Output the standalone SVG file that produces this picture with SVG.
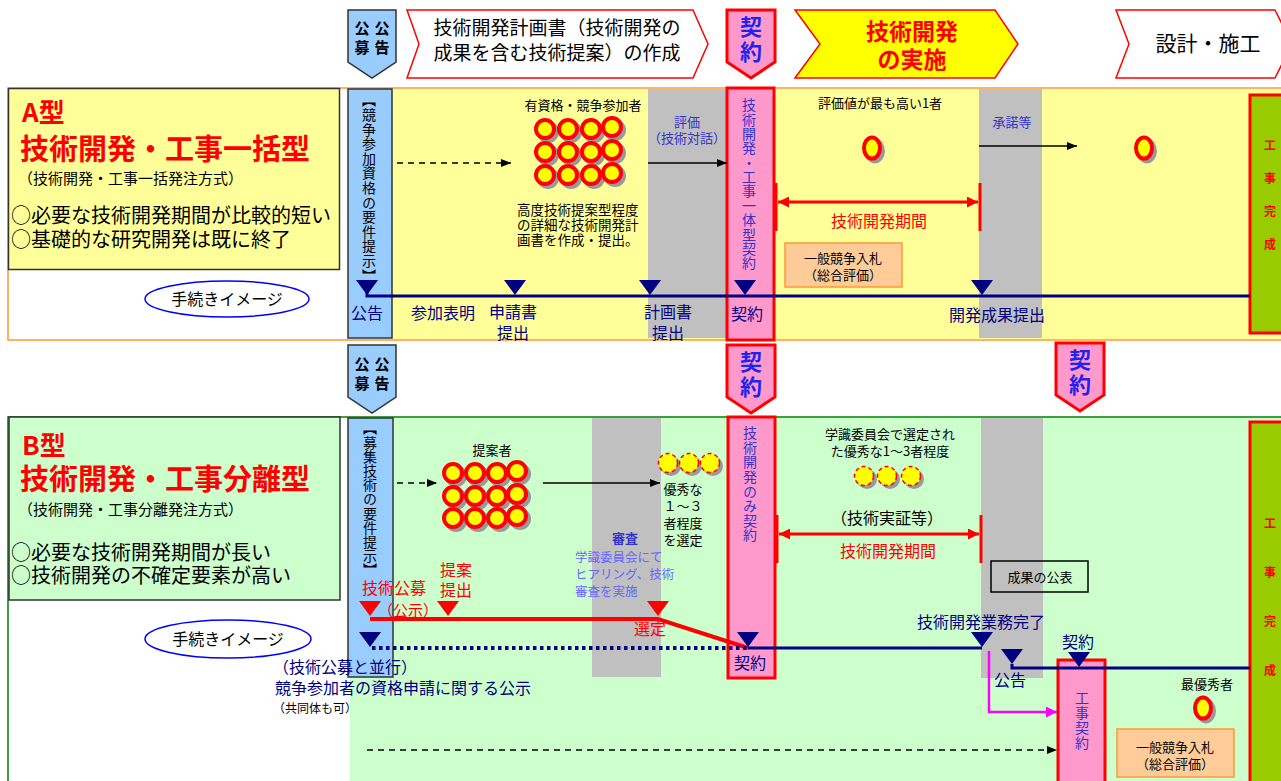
<svg xmlns="http://www.w3.org/2000/svg" width="1281" height="781" viewBox="0 0 1281 781">
<style>
text{font-family:"Noto Sans CJK JP","Noto Sans",sans-serif;}
.m{text-anchor:middle;}
.v{writing-mode:vertical-rl;text-anchor:start;}
.navy{fill:#000080;}
.blu{fill:#3333CC;}
.lblu{fill:#6666FF;}
.red{fill:#FF0000;}
.blk{fill:#000;}
.b{font-weight:bold;}
.gray{fill:#C0C0C0;}
.bluecol{fill:#99CCFF;stroke:#333;stroke-width:1.5;}
.pinkcol{fill:#FF99CC;stroke:#FF0000;stroke-width:3;}
.greencol{fill:#99CC00;stroke:#FF0000;stroke-width:3;}
.obox{fill:#FFCC99;stroke:#FF9933;stroke-width:1.5;}
.tl{stroke:#000080;stroke-width:3;fill:none;}
.ell{fill:#fff;stroke:#0000FF;stroke-width:1.5;}
</style>
<defs>
<path id="tri" d="M-11,0 H11 L0,15 Z"/>
<g id="cir"><circle cx="3" cy="3" r="11" fill="#999"/><circle r="9" fill="#FFFF00" stroke="#FF0000" stroke-width="4"/></g>
<g id="dcir"><circle cx="3" cy="3" r="10" fill="#999"/><circle r="9.5" fill="#FFFF00" stroke="#FF0000" stroke-width="1.5" stroke-dasharray="4,3"/></g>
<g id="ecir"><ellipse cx="3" cy="3" rx="10" ry="12.5" fill="#999"/><ellipse rx="8" ry="10.5" fill="#FFFF00" stroke="#FF0000" stroke-width="4"/></g>
<marker id="ah" viewBox="0 0 10 10" refX="10" refY="5" markerWidth="11" markerHeight="10" markerUnits="userSpaceOnUse" orient="auto"><path d="M0,1 L10,5 L0,9 Z" fill="#000"/></marker>
<marker id="ahr" viewBox="0 0 10 10" refX="10" refY="5" markerWidth="12" markerHeight="11" markerUnits="userSpaceOnUse" orient="auto-start-reverse"><path d="M0,0 L10,5 L0,10 Z" fill="#FF0000"/></marker>
<marker id="ahm" viewBox="0 0 10 10" refX="10" refY="5" markerWidth="11" markerHeight="11" markerUnits="userSpaceOnUse" orient="auto"><path d="M0,0 L10,5 L0,10 Z" fill="#FF00FF"/></marker>
</defs>

<rect x="0" y="0" width="1281" height="781" fill="#fff"/>

<!-- Header -->
<g id="hdr-koubo">
<polygon points="348,10 396,10 396,62 372,78 348,62" class="bluecol"/>
<text class="m b blk" font-size="15"><tspan x="382" y="34">公</tspan><tspan x="382" y="53">告</tspan><tspan x="362" y="34">公</tspan><tspan x="362" y="53">募</tspan></text>
</g>
<g id="hdr-plan">
<polygon points="407,10 693,10 708,44 693,78 407,78 419,44" fill="#fff" stroke="#FF0000" stroke-width="1.5"/>
<text class="m blk" font-size="19"><tspan x="557" y="35">技術開発計画書（技術開発の</tspan><tspan x="557" y="60">成果を含む技術提案）の作成</tspan></text>
</g>
<g id="hdr-keiyaku">
<polygon points="727,10 775,10 775,62 751,78 727,62" class="pinkcol"/>
<text class="m b" font-size="22" fill="#2222EE"><tspan x="751" y="35">契</tspan><tspan x="751" y="60">約</tspan></text>
</g>
<g id="hdr-jisshi">
<polygon points="795,10 995,10 1018,44 995,78 795,78 820,44" fill="#FFFF00" stroke="#FF0000" stroke-width="1.5"/>
<text class="m b red" font-size="23"><tspan x="912" y="40">技術開発</tspan><tspan x="912" y="68">の実施</tspan></text>
</g>
<g id="hdr-sekkei">
<polygon points="1116,10 1275,10 1292,44 1275,78 1116,78 1129,44" fill="#fff" stroke="#FF0000" stroke-width="1.5"/>
<text class="m blk" x="1208" y="51" font-size="21">設計・施工</text>
</g>

<!-- A section -->
<g id="A-frame">
<rect x="8" y="88" width="1285" height="252" fill="#fff" stroke="#FF9933" stroke-width="1.5"/>
<rect x="392" y="89" width="889" height="250" fill="#FFFF99"/>
<rect x="648" y="89" width="79" height="249" class="gray"/>
<rect x="979" y="89" width="63" height="249" class="gray"/>
</g>
<g id="A-title">
<rect x="8.5" y="88.5" width="331" height="181" fill="#FFFF99" stroke="#333" stroke-width="1.5"/>
<text class="b red" x="22" y="122" font-size="26">A型</text>
<text class="b red" x="20" y="160" font-size="29">技術開発・工事一括型</text>
<text class="blk" x="18" y="184" font-size="15">（技術開発・工事一括発注方式）</text>
<text class="blk" x="11" y="223" font-size="20">○必要な技術開発期間が比較的短い</text>
<text class="blk" x="11" y="247" font-size="20">○基礎的な研究開発は既に終了</text>
</g>
<g id="A-image">
<ellipse cx="227" cy="299" rx="82" ry="18" class="ell"/>
<text class="m blk" x="227" y="305" font-size="16">手続きイメージ</text>
</g>
<g id="A-bluecol">
<rect x="348" y="89" width="44" height="249" class="bluecol"/>
<text class="v blk" x="369" y="93" font-size="14" letter-spacing="0.6">【競争参加資格の要件提示】</text>
</g>
<g id="A-pinkcol">
<rect x="727" y="88" width="47" height="252" class="pinkcol"/>
<text class="v blu" x="749" y="98" font-size="14" letter-spacing="0.36">技術開発・工事一体型契約</text>
</g>
<g id="A-greencol">
<rect x="1250" y="95" width="40" height="238" class="greencol"/>
<text class="v b red" x="1270" y="139" font-size="12" letter-spacing="21.3">工事完成</text>
</g>
<g id="A-applicants">
<text class="m blk" x="583" y="110" font-size="13">有資格・競争参加者</text>
<use href="#cir" x="545" y="129"/><use href="#cir" x="568" y="129"/><use href="#cir" x="591" y="129"/><use href="#cir" x="612" y="127"/>
<use href="#cir" x="545" y="152"/><use href="#cir" x="568" y="152"/><use href="#cir" x="591" y="152"/><use href="#cir" x="612" y="150"/>
<use href="#cir" x="545" y="175"/><use href="#cir" x="568" y="175"/><use href="#cir" x="591" y="175"/><use href="#cir" x="612" y="173"/>
<text class="blk" font-size="13.5"><tspan x="517" y="215">高度技術提案型程度</tspan><tspan x="517" y="230">の詳細な技術開発計</tspan><tspan x="517" y="245">画書を作成・提出。</tspan></text>
</g>
<g id="A-eval">
<text class="m blu" font-size="13"><tspan x="687" y="127">評価</tspan><tspan x="687" y="143">（技術対話）</tspan></text>
</g>
<g id="A-winner">
<text class="m blk" x="880" y="108" font-size="13">評価値が最も高い1者</text>
<use href="#ecir" x="872" y="148"/>
<text class="m red" x="879" y="227" font-size="16">技術開発期間</text>
</g>
<g id="A-accept">
<text class="m blu" x="1012" y="127" font-size="13">承諾等</text>
<use href="#ecir" x="1144" y="148"/>
</g>
<g id="A-bid">
<rect x="785" y="243" width="117" height="44" class="obox"/>
<text class="m blk" font-size="13"><tspan x="843" y="263">一般競争入札</tspan><tspan x="843" y="280">（総合評価）</tspan></text>
</g>
<g id="A-timeline-labels">
<text class="m navy" x="367" y="319" font-size="16">公告</text>
<text class="m navy" x="443" y="319" font-size="16">参加表明</text>
<text class="m navy" font-size="16"><tspan x="513" y="318">申請書</tspan><tspan x="513" y="339">提出</tspan></text>
<text class="m navy" font-size="16"><tspan x="668" y="318">計画書</tspan><tspan x="668" y="339">提出</tspan></text>
<text class="m navy" x="747" y="320" font-size="16">契約</text>
<text class="m navy" x="997" y="321" font-size="16">開発成果提出</text>
</g>

<!-- B section header pentagons -->
<g id="B-koubo">
<polygon points="348,345 396,345 396,397 372,413 348,397" class="bluecol"/>
<text class="m b blk" font-size="15"><tspan x="382" y="370">公</tspan><tspan x="382" y="389">告</tspan><tspan x="362" y="370">公</tspan><tspan x="362" y="389">募</tspan></text>
</g>
<g id="B-keiyaku1">
<polygon points="727,345 775,345 775,397 751,413 727,397" class="pinkcol"/>
<text class="m b" font-size="22" fill="#2222EE"><tspan x="751" y="370">契</tspan><tspan x="751" y="395">約</tspan></text>
</g>
<g id="B-keiyaku2">
<polygon points="1056,343 1104,343 1104,395 1080,411 1056,395" class="pinkcol"/>
<text class="m b" font-size="22" fill="#2222EE"><tspan x="1080" y="368">契</tspan><tspan x="1080" y="393">約</tspan></text>
</g>

<!-- B section -->
<g id="B-frame">
<rect x="8" y="417" width="1285" height="380" fill="#fff" stroke="#008000" stroke-width="1.5"/>
<rect x="350" y="418" width="931" height="363" fill="#CCFFCC"/>
<rect x="592" y="418" width="69" height="259" class="gray"/>
<rect x="981" y="418" width="62" height="260" class="gray"/>
</g>
<g id="B-title">
<rect x="9" y="417" width="331" height="183" fill="#CCFFCC" stroke="#333" stroke-width="1.5"/>
<text class="b red" x="22" y="455" font-size="26">B型</text>
<text class="b red" x="20" y="490" font-size="29">技術開発・工事分離型</text>
<text class="blk" x="18" y="515" font-size="15">（技術開発・工事分離発注方式）</text>
<text class="blk" x="11" y="560" font-size="20">○必要な技術開発期間が長い</text>
<text class="blk" x="11" y="583" font-size="20">○技術開発の不確定要素が高い</text>
</g>
<g id="B-image">
<ellipse cx="228" cy="639" rx="83" ry="19" class="ell"/>
<text class="m blk" x="228" y="645" font-size="16">手続きイメージ</text>
</g>
<g id="B-bluecol">
<rect x="348" y="418" width="45" height="259" class="bluecol"/>
<text class="v blk" x="370" y="421" font-size="14" letter-spacing="0.2">【募集技術の要件提示】</text>
</g>
<g id="B-pinkcol1">
<rect x="728" y="417" width="47" height="261" class="pinkcol"/>
<text class="v blu" x="750" y="426" font-size="14" letter-spacing="0.57">技術開発のみ契約</text>
</g>
<g id="B-pinkcol2">
<rect x="1058" y="660" width="47" height="135" class="pinkcol"/>
<text class="v blu" x="1082" y="691" font-size="14" letter-spacing="1">工事契約</text>
</g>
<g id="B-greencol">
<rect x="1250" y="422" width="40" height="370" class="greencol"/>
<text class="v b red" x="1270" y="517" font-size="12" letter-spacing="37">工事完成</text>
</g>
<g id="B-proposers">
<text class="m blk" x="492" y="455" font-size="13">提案者</text>
<use href="#cir" x="453" y="473"/><use href="#cir" x="475" y="473"/><use href="#cir" x="497" y="473"/><use href="#cir" x="517" y="471"/>
<use href="#cir" x="453" y="496"/><use href="#cir" x="475" y="496"/><use href="#cir" x="497" y="496"/><use href="#cir" x="517" y="494"/>
<use href="#cir" x="453" y="518"/><use href="#cir" x="475" y="518"/><use href="#cir" x="497" y="518"/><use href="#cir" x="517" y="516"/>
</g>
<g id="B-review">
<text class="m b blu" x="625" y="543" font-size="13">審査</text>
<text class="lblu" font-size="12.5"><tspan x="575" y="562">学識委員会にて</tspan><tspan x="575" y="579">ヒアリング、技術</tspan><tspan x="575" y="596">審査を実施</tspan></text>
</g>
<g id="B-selected">
<use href="#dcir" x="668" y="463"/><use href="#dcir" x="689" y="463"/><use href="#dcir" x="710" y="463"/>
<text class="m blk" font-size="13"><tspan x="683" y="494">優秀な</tspan><tspan x="683" y="511">１～３</tspan><tspan x="683" y="528">者程度</tspan><tspan x="683" y="545">を選定</tspan></text>
</g>
<g id="B-dev">
<text class="m blk" font-size="13"><tspan x="890" y="439">学識委員会で選定され</tspan><tspan x="890" y="456">た優秀な1～3者程度</tspan></text>
<use href="#dcir" x="864" y="476"/><use href="#dcir" x="887" y="476"/><use href="#dcir" x="911" y="476"/>
<text class="m blk" x="887" y="524" font-size="16">（技術実証等）</text>
<text class="m red" x="888" y="557" font-size="16">技術開発期間</text>
</g>
<g id="B-publish">
<rect x="991" y="561" width="97" height="31" fill="none" stroke="#000" stroke-width="1.5"/>
<text class="m blk" x="1040" y="582" font-size="13">成果の公表</text>
</g>
<g id="B-best">
<text class="m blk" x="1207" y="689" font-size="13">最優秀者</text>
<use href="#ecir" x="1203" y="708"/>
</g>
<g id="B-bid">
<rect x="1117" y="729" width="117" height="48" class="obox"/>
<text class="m blk" font-size="13"><tspan x="1175" y="752">一般競争入札</tspan><tspan x="1175" y="769">（総合評価）</tspan></text>
</g>
<g id="B-labels">
<text class="red" x="362" y="594" font-size="16">技術公募</text>
<text class="red" x="378" y="616" font-size="15">（公示）</text>
<text class="red" font-size="16"><tspan x="440" y="576">提案</tspan><tspan x="440" y="596">提出</tspan></text>
<text class="m red" x="650" y="635" font-size="16">選定</text>
<text class="m navy" x="750" y="669" font-size="16">契約</text>
<text class="m navy" x="981" y="628" font-size="16">技術開発業務完了</text>
<text class="m navy" x="1010" y="686" font-size="16">公告</text>
<text class="m navy" x="1078" y="648" font-size="16">契約</text>
<text class="navy" x="273" y="673" font-size="16">（技術公募と並行）</text>
<text class="navy" x="275" y="694" font-size="16">競争参加者の資格申請に関する公示</text>
<text class="blk" x="273" y="713" font-size="12">（共同体も可）</text>
</g>

<!-- Connectors -->
<g id="connectors">
<path d="M367,292 V296 H1250" class="tl"/>
<use href="#tri" x="367" y="280" fill="#000080"/>
<use href="#tri" x="515" y="280" fill="#000080"/>
<use href="#tri" x="650" y="280" fill="#000080"/>
<use href="#tri" x="745" y="280" fill="#000080"/>
<use href="#tri" x="982" y="280" fill="#000080"/>
<line x1="397" y1="163" x2="511" y2="163" stroke="#000" stroke-width="1.5" stroke-dasharray="6,5" marker-end="url(#ah)"/>
<line x1="648" y1="163" x2="727" y2="163" stroke="#000" stroke-width="1.5" marker-end="url(#ah)"/>
<line x1="979" y1="146" x2="1077" y2="146" stroke="#000" stroke-width="1.5" marker-end="url(#ah)"/>
<line x1="776" y1="183" x2="776" y2="231" stroke="#FF0000" stroke-width="3"/>
<line x1="980" y1="183" x2="980" y2="231" stroke="#FF0000" stroke-width="3"/>
<line x1="778" y1="202" x2="978" y2="202" stroke="#FF0000" stroke-width="3" marker-start="url(#ahr)" marker-end="url(#ahr)"/>
<line x1="397" y1="483" x2="437" y2="483" stroke="#000" stroke-width="1.5" stroke-dasharray="6,5" marker-end="url(#ah)"/>
<line x1="543" y1="483" x2="660" y2="483" stroke="#000" stroke-width="1.5" marker-end="url(#ah)"/>
<line x1="777" y1="515" x2="777" y2="563" stroke="#FF0000" stroke-width="3"/>
<line x1="981" y1="515" x2="981" y2="563" stroke="#FF0000" stroke-width="3"/>
<line x1="779" y1="534" x2="979" y2="534" stroke="#FF0000" stroke-width="3" marker-start="url(#ahr)" marker-end="url(#ahr)"/>
<path d="M370,619 H658 L748,648" fill="none" stroke="#FF0000" stroke-width="4"/>
<use href="#tri" x="370" y="601" fill="#FF0000"/>
<use href="#tri" x="448" y="601" fill="#FF0000"/>
<use href="#tri" x="658" y="601" fill="#FF0000"/>
<line x1="372" y1="648" x2="748" y2="648" stroke="#000080" stroke-width="4" stroke-dasharray="3.5,3.5"/>
<line x1="748" y1="648" x2="982" y2="648" stroke="#000080" stroke-width="3"/>
<path d="M1012,664 V668 H1250" class="tl"/>
<use href="#tri" x="370" y="632" fill="#000080"/>
<use href="#tri" x="748" y="632" fill="#000080"/>
<use href="#tri" x="982" y="632" fill="#000080"/>
<use href="#tri" x="1012" y="649" fill="#000080"/>
<use href="#tri" x="1079" y="652" fill="#000080"/>
<path d="M989,651 V712 H1057" fill="none" stroke="#FF00FF" stroke-width="2.5" marker-end="url(#ahm)"/>
<line x1="367" y1="750" x2="1057" y2="750" stroke="#000" stroke-width="1.5" stroke-dasharray="6,5" marker-end="url(#ah)"/>
</g>
</svg>
